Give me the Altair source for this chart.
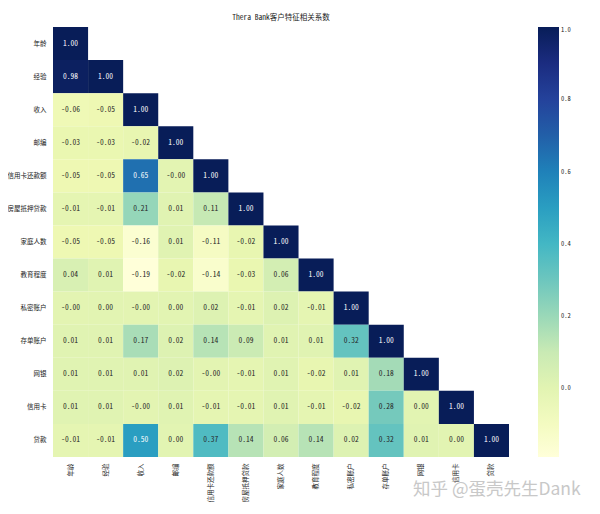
import altair as alt
import pandas as pd

labels = ["年龄", "经验", "收入", "邮编", "信用卡还款额", "房屋抵押贷款", "家庭人数",
          "教育程度", "私密账户", "存单账户", "网银", "信用卡", "贷款"]

# lower triangle rows (incl. diagonal); -0.001 stands for a displayed "-0.00"
rows = [
    [1.00],
    [0.98, 1.00],
    [-0.06, -0.05, 1.00],
    [-0.03, -0.03, -0.02, 1.00],
    [-0.05, -0.05, 0.65, -0.001, 1.00],
    [-0.01, -0.01, 0.21, 0.01, 0.11, 1.00],
    [-0.05, -0.05, -0.16, 0.01, -0.11, -0.02, 1.00],
    [0.04, 0.01, -0.19, -0.02, -0.14, -0.03, 0.06, 1.00],
    [-0.001, 0.00, -0.001, 0.00, 0.02, -0.01, 0.02, -0.01, 1.00],
    [0.01, 0.01, 0.17, 0.02, 0.14, 0.09, 0.01, 0.01, 0.32, 1.00],
    [0.01, 0.01, 0.01, 0.02, -0.001, -0.01, 0.01, -0.02, 0.01, 0.18, 1.00],
    [0.01, 0.01, -0.001, 0.01, -0.01, -0.01, 0.01, -0.01, -0.02, 0.28, 0.00, 1.00],
    [-0.01, -0.01, 0.50, 0.00, 0.37, 0.14, 0.06, 0.14, 0.02, 0.32, 0.01, 0.00, 1.00],
]

title_text = "Thera Bank客户特征相关系数"
watermark = "知乎 @蛋壳先生Dank"
vmin, vmax = -0.19, 1.0
ylgnbu = ["#ffffd9", "#edf8b1", "#c7e9b4", "#7fcdbb", "#41b6c4",
          "#1d91c0", "#225ea8", "#253494", "#081d58"]
color_domain = [vmin + (vmax - vmin) * k / (len(ylgnbu) - 1) for k in range(len(ylgnbu))]

recs = []
for i, row in enumerate(rows):
    for j, v in enumerate(row):
        recs.append({"row": labels[i], "col": labels[j], "v": v, "t": f"{v:.2f}"})
df = pd.DataFrame(recs)

CJK = "Noto Sans CJK SC"
MONO = "Noto Sans Mono CJK SC, DejaVu Sans Mono, monospace"

base = alt.Chart(df).encode(
    x=alt.X("col:N", sort=labels, title=None,
            scale=alt.Scale(domain=labels, paddingInner=0, paddingOuter=0),
            axis=alt.Axis(labelAngle=270, labelFont=CJK, labelFontSize=6.5,
                          labelColor="#222", ticks=False, domain=False,
                          labelPadding=6)),
    y=alt.Y("row:N", sort=labels, title=None,
            scale=alt.Scale(domain=labels, paddingInner=0, paddingOuter=0),
            axis=alt.Axis(labelFont=CJK, labelFontSize=6.5, labelColor="#222",
                          ticks=False, domain=False, labelPadding=7)),
)

rects = base.mark_rect().encode(
    color=alt.Color("v:Q",
                    scale=alt.Scale(domain=color_domain, range=ylgnbu,
                                    interpolate="rgb"),
                    legend=alt.Legend(title=None, orient="right", offset=29,
                                      gradientLength=430, gradientThickness=21,
                                      values=[0.0, 0.2, 0.4, 0.6, 0.8, 1.0],
                                      format=".1f", labelFontSize=6.5,
                                      labelFont=MONO, labelColor="#222",
                                      gradientStrokeWidth=0))
)

texts = base.mark_text(font=MONO, fontSize=7.5).encode(
    text="t:N",
    color=alt.condition("datum.v > 0.45", alt.value("#ffffff"), alt.value("#262626")),
)

wm = alt.Chart(pd.DataFrame({"w": [watermark]})).mark_text(
    font=CJK, fontSize=17.5, color="#c8c8c8", align="left", baseline="middle"
).encode(text="w:N", x=alt.value(360), y=alt.value(463))

chart = alt.layer(rects, texts, wm).properties(
    width=456, height=430,
    title=alt.TitleParams(title_text, font=MONO, fontSize=7.5, fontWeight="normal",
                          anchor="middle", color="#222", offset=6),
    autosize=alt.AutoSizeParams(type="none"),
    padding={"left": 45, "top": 19, "right": 80, "bottom": 45},
).configure_view(stroke=None)

chart.save("out.html", embed_options={"renderer": "svg", "actions": False})
